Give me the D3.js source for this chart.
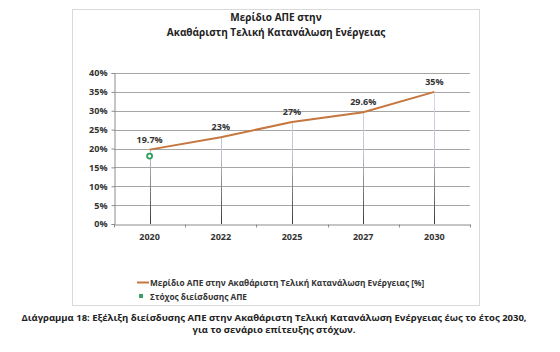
<!DOCTYPE html>
<html>
<head>
<meta charset="utf-8">
<script src="https://cdn.jsdelivr.net/npm/d3@7"></script>
<style>
  body { margin: 0; background: #fff; }
  text { font-family: "Open Sans", "Noto Sans", sans-serif; fill: #404040; }
</style>
</head>
<body>
<svg id="chart" width="560" height="352"></svg>
<script>
// data
const years = ["2020", "2022", "2025", "2027", "2030"];
const shares = [19.7, 23, 27, 29.6, 35];
const shareLabels = ["19.7%", "23%", "27%", "29.6%", "35%"];
const targetYears = ["2020"];
const targetValues = [18];
const yTicks = [0, 5, 10, 15, 20, 25, 30, 35, 40];

const titleLines = ["Μερίδιο ΑΠΕ στην", "Ακαθάριστη Τελική Κατανάλωση Ενέργειας"];
const legendLabels = ["Μερίδιο ΑΠΕ στην Ακαθάριστη Τελική Κατανάλωση Ενέργειας [%]", "Στόχος διείσδυσης ΑΠΕ"];
const captionLines = [
  "Διάγραμμα 18: Εξέλιξη διείσδυσης ΑΠΕ στην Ακαθάριστη Τελική Κατανάλωση Ενέργειας έως το έτος 2030,",
  "για το σενάριο επίτευξης στόχων."
];

const svg = d3.select("#chart");
const plot = { left: 114, right: 470, top: 73, bottom: 224 };

const x = d3.scaleBand().domain(years).range([plot.left, plot.right]);
const y = d3.scaleLinear().domain([0, 40]).range([plot.bottom, plot.top]);
const cx = d => x(d) + x.bandwidth() / 2;

// chart frame
svg.append("rect")
  .attr("x", 72.5).attr("y", 9.5)
  .attr("width", 407).attr("height", 296)
  .attr("fill", "#fff")
  .attr("stroke", "#d9d9d9");

// title
svg.append("g").selectAll("text")
  .data(titleLines)
  .join("text")
  .attr("x", 276)
  .attr("y", (d, i) => 21 + i * 15)
  .attr("text-anchor", "middle")
  .style("font-size", "10px")
  .style("font-weight", "bold")
  .style("fill", "#222")
  .text(d => d);

// gridlines
svg.append("g").selectAll("line")
  .data(yTicks.slice(1))
  .join("line")
  .attr("x1", plot.left).attr("x2", plot.right)
  .attr("y1", d => Math.round(y(d)) + 0.5).attr("y2", d => Math.round(y(d)) + 0.5)
  .attr("stroke", "#a6a6a6");

// y axis
const yAxis = svg.append("g")
  .attr("transform", `translate(${plot.left + 0.5},0)`)
  .call(d3.axisLeft(y).tickValues(yTicks).tickFormat(d => d + "%").tickSize(3).tickPadding(4));
yAxis.select(".domain").attr("stroke", "#8c8c8c");
yAxis.selectAll(".tick line").attr("stroke", "#8c8c8c");
yAxis.selectAll("text").style("font-size", "9px").style("font-weight", "bold").style("fill", "#333").attr("font-family", null);

// drop lines with gradient (light at top, dark at the axis)
const grad = svg.append("defs").append("linearGradient")
  .attr("id", "dropGrad")
  .attr("gradientUnits", "userSpaceOnUse")
  .attr("x1", 0).attr("x2", 0)
  .attr("y1", plot.top).attr("y2", plot.bottom);
grad.append("stop").attr("offset", "0%").attr("stop-color", "#dbe5f1");
grad.append("stop").attr("offset", "55%").attr("stop-color", "#b9c3cf");
grad.append("stop").attr("offset", "100%").attr("stop-color", "#3a3a3a");

svg.append("g").selectAll("line")
  .data(years)
  .join("line")
  .attr("x1", d => Math.round(cx(d)) + 0.5).attr("x2", d => Math.round(cx(d)) + 0.5)
  .attr("y1", (d, i) => y(shares[i])).attr("y2", plot.bottom)
  .attr("stroke", "url(#dropGrad)")
  .attr("stroke-width", 1);

// x axis
const xAxis = svg.append("g")
  .attr("transform", `translate(0,${plot.bottom + 0.5})`)
  .call(d3.axisBottom(x).tickSize(0).tickPadding(9));
xAxis.select(".domain").attr("stroke", "#8c8c8c");
xAxis.selectAll("text").style("font-size", "9px").style("font-weight", "bold").style("fill", "#333").attr("font-family", null);
// boundary tick marks between categories
xAxis.append("g").selectAll("line")
  .data(d3.range(years.length + 1))
  .join("line")
  .attr("x1", i => Math.round(plot.left + i * x.step()) + 0.5)
  .attr("x2", i => Math.round(plot.left + i * x.step()) + 0.5)
  .attr("y1", 0).attr("y2", 3)
  .attr("stroke", "#8c8c8c");

// main line
svg.append("path")
  .datum(years.map((d, i) => [cx(d), y(shares[i])]))
  .attr("d", d3.line())
  .attr("fill", "none")
  .attr("stroke", "#c5773f")
  .attr("stroke-width", 2);

// data labels
svg.append("g").selectAll("text")
  .data(years)
  .join("text")
  .attr("x", d => cx(d))
  .attr("y", (d, i) => y(shares[i]) - 7)
  .attr("text-anchor", "middle")
  .style("font-size", "9px")
  .style("font-weight", "bold")
  .style("fill", "#333")
  .text((d, i) => shareLabels[i]);

// target points
svg.append("g").selectAll("circle")
  .data(targetYears)
  .join("circle")
  .attr("cx", d => cx(d))
  .attr("cy", (d, i) => y(targetValues[i]))
  .attr("r", 2.5)
  .attr("fill", "#fff")
  .attr("stroke", "#2e9e5b")
  .attr("stroke-width", 1.8);

// legend
const legend = svg.append("g");
legend.append("line")
  .attr("x1", 137).attr("x2", 149)
  .attr("y1", 282.5).attr("y2", 282.5)
  .attr("stroke", "#c5773f").attr("stroke-width", 2);
legend.append("rect")
  .attr("x", 139).attr("y", 294)
  .attr("width", 4).attr("height", 4)
  .attr("fill", "#3aa06a");
legend.selectAll("text")
  .data(legendLabels)
  .join("text")
  .attr("x", 150)
  .attr("y", (d, i) => 285.5 + i * 14)
  .style("font-size", "8.3px")
  .style("font-weight", "bold")
  .style("fill", "#333")
  .text(d => d);

// caption under the chart
svg.append("g").selectAll("text")
  .data(captionLines)
  .join("text")
  .attr("x", 274)
  .attr("y", (d, i) => 321 + i * 12)
  .attr("text-anchor", "middle")
  .style("font-size", "9.5px")
  .style("font-weight", "bold")
  .style("fill", "#222")
  .text(d => d);
</script>
</body>
</html>
